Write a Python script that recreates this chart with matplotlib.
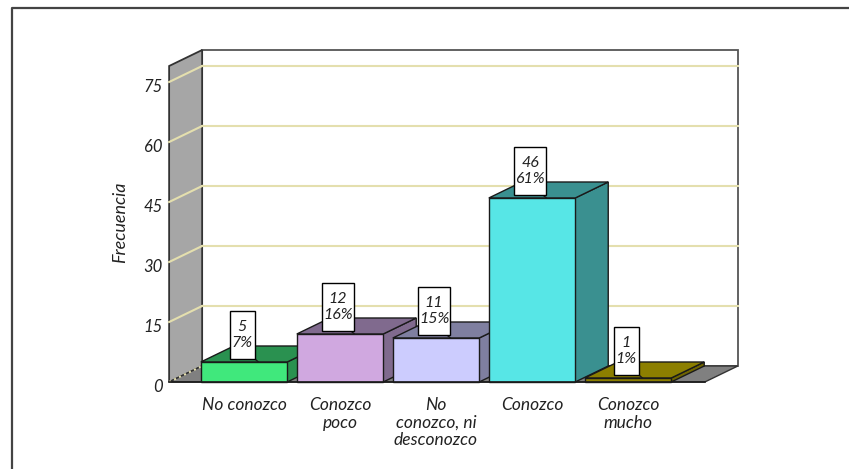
import numpy as np
import matplotlib
matplotlib.use('Agg')
import matplotlib.pyplot as plt
from matplotlib.patches import Polygon, Rectangle

# data
categorias = ['No conozco', 'Conozco\npoco', 'No\nconozco, ni\ndesconozco', 'Conozco', 'Conozco\nmucho']
frecuencia = [5, 12, 11, 46, 1]
porcentaje = [7, 16, 15, 61, 1]
yticks = [0, 15, 30, 45, 60, 75]

col_frente = ['#40e87c', '#d0a8e0', '#ccccfe', '#57e6e6', '#8c7f00']
col_lado = ['#2a9150', '#806a8e', '#7f7fa0', '#3a9090', '#6f6500']
col_tapa = ['#2a9150', '#806a8e', '#7f7fa0', '#3a9090', '#8c7f00']

plt.rcParams['font.family'] = ['Lato', 'DejaVu Sans']

fig = plt.figure(figsize=(8.49, 4.69), dpi=100)
ax = fig.add_axes([0, 0, 1, 1])
ax.set_xlim(-2.5417, 6.302)
ax.set_ylim(-21.75, 95.5)
ax.axis('off')

# oblique depth offset
DX, DY = 0.344, 4.0
x0, x1 = -0.78, 4.8
ytop = 79
ancho = 0.9
borde = '#1a1a1a'

def poly(pts, fc, lw=1.0, ec=borde, z=1):
    ax.add_patch(Polygon(pts, closed=True, fc=fc, ec=ec, lw=lw, zorder=z))

# back wall, left wall, floor
poly([(x0 + DX, DY), (x1 + DX, DY), (x1 + DX, ytop + DY), (x0 + DX, ytop + DY)], 'white', lw=1.3, ec='#555555')
poly([(x0, 0), (x0 + DX, DY), (x0 + DX, ytop + DY), (x0, ytop)], '#a6a6a6', lw=1.3, ec='#333333')
poly([(x0, 0), (x1, 0), (x1 + DX, DY), (x0 + DX, DY)], '#808080', lw=1.0, ec='#333333')

# grid lines on the walls
for v in yticks:
    ls = ':' if v == 0 else '-'
    ax.plot([x0, x0 + DX], [v, v + DY], color='#e4dfae', lw=1.5, ls=ls, zorder=2)
    if v > 0:
        ax.plot([x0 + DX, x1 + DX], [v + DY, v + DY], color='#e4dfae', lw=1.5, zorder=2)
    ax.text(x0 - 0.07, v - 1.3, str(v), ha='right', va='center', fontsize=12,
            style='italic', color='#222222')

# bars, left to right
for i, (f, p) in enumerate(zip(frecuencia, porcentaje)):
    a, b = i - ancho / 2, i + ancho / 2
    poly([(b, 0), (b + DX, DY), (b + DX, f + DY), (b, f)], col_lado[i], z=3)
    poly([(a, f), (b, f), (b + DX, f + DY), (a + DX, f + DY)], col_tapa[i], z=3)
    poly([(a, 0), (b, 0), (b, f), (a, f)], col_frente[i], z=3)

ax.plot([x0, x1], [0, 0], color=borde, lw=1.2, zorder=4)

# value labels: white box with a short leader to the bar top
for i, (f, p) in enumerate(zip(frecuencia, porcentaje)):
    txt = '%d\n%d%%' % (f, p)
    w = (11 + 7.0 * len('%d%%' % p)) / 96.0
    h = 12.0
    cx, yb = i - 0.02, f + 0.8
    ax.plot([cx + 0.06, cx + 0.17], [yb + 1.5, f], color=borde, lw=1.0, zorder=5)
    ax.add_patch(Rectangle((cx - w / 2, yb), w, h, fc='white', ec='black', lw=1.0, zorder=6))
    ax.text(cx, yb + h / 2, txt, ha='center', va='center', fontsize=11.5,
            style='italic', linespacing=1.15, color='#222222', zorder=7)

# category labels
for i, c in enumerate(categorias):
    ax.text(i, -3.8, c, ha='center', va='top', fontsize=12.5, style='italic',
            linespacing=1.1, color='#222222')

ax.text(-1.29, 40, 'Frecuencia', rotation=90, ha='center', va='center', fontsize=13,
        style='italic', color='#222222')

# outer frame
fx, fy = -2.4167, 93.5
ax.plot([fx, fx, 7], [-30, fy, fy], color='#444444', lw=1.6, zorder=1, clip_on=False)

fig.savefig('out.png', dpi=100)
